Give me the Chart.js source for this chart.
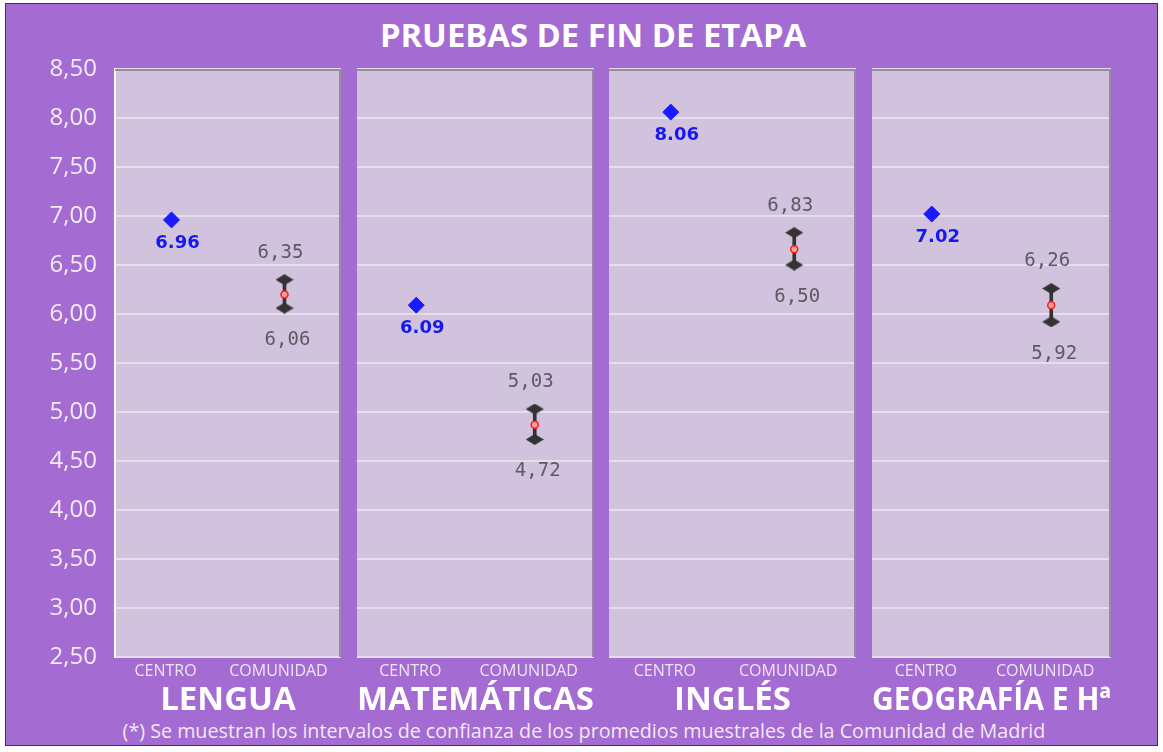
<!DOCTYPE html>
<html>
<head>
<meta charset="utf-8">
<script src="https://cdn.jsdelivr.net/npm/chart.js@4.4.1/dist/chart.umd.min.js"></script>
<style>
  body { margin: 0; width: 1163px; height: 752px; overflow: hidden; background: #ffffff; font-family: 'Open Sans', sans-serif; position: relative; }
  #frame { position: absolute; left: 5px; top: 3px; width: 1151px; height: 741px; background: #a46bd3; border: 1px solid #3a3a3a; }
  .panel { position: absolute; top: 53px; height: 663px; }
  #title { position: absolute; left: 0; width: 1186px; top: 13px; text-align: center; color: #ffffff; font-weight: 700; font-size: 32.8px; line-height: 44px; }
  #note { position: absolute; left: 0; width: 1168px; top: 717px; text-align: center; color: #f1e9f6; font-size: 19.7px; line-height: 28px; }
</style>
</head>
<body>
<div id="frame"></div>
<div id="title">PRUEBAS DE FIN DE ETAPA</div>
<div id="panels"></div>
<div id="note">(*) Se muestran los intervalos de confianza de los promedios muestrales de la Comunidad de Madrid</div>

<script>
// Datos
const subjects = ['LENGUA', 'MATEMÁTICAS', 'INGLÉS', 'GEOGRAFÍA E Hª'];
const groups = ['CENTRO', 'COMUNIDAD'];
const centro = [6.96, 6.09, 8.06, 7.02];
const comunidadUpper = [6.35, 5.03, 6.83, 6.26];
const comunidadLower = [6.06, 4.72, 6.50, 5.92];
const comunidadMean = [6.20, 4.87, 6.66, 6.09];
const yTickLabels = ['2,50', '3,00', '3,50', '4,00', '4,50', '5,00', '5,50', '6,00', '6,50', '7,00', '7,50', '8,00', '8,50'];

// Posición de cada panel (izquierda, ancho); el primero lleva el eje Y
const panelBoxes = [
    { left: 0, width: 341 },
    { left: 357, width: 237 },
    { left: 609, width: 247 },
    { left: 872, width: 239 }
];
const yAxisWidth = 115;

// Marcador de los extremos del intervalo (rombo aplastado)
function makeCap() {
    const c = document.createElement('canvas');
    c.width = 18; c.height = 11;
    const g = c.getContext('2d');
    g.fillStyle = '#333333';
    g.beginPath();
    g.moveTo(0, 5.5); g.lineTo(9, 0); g.lineTo(18, 5.5); g.lineTo(9, 11);
    g.closePath();
    g.fill();
    return c;
}
const capImg = makeCap();

// Fondo del panel y sombra superior/derecha
const panelBackground = {
    id: 'panelBackground',
    beforeDraw(chart) {
        const { ctx, chartArea: a } = chart;
        ctx.save();
        ctx.fillStyle = '#d1c3dd';
        ctx.fillRect(a.left, a.top, a.right - a.left, a.bottom - a.top);
        ctx.restore();
    },
    beforeDatasetsDraw(chart) {
        const { ctx, chartArea: a } = chart;
        ctx.save();
        ctx.strokeStyle = '#978ba2';
        ctx.lineWidth = 2;
        ctx.beginPath();
        ctx.moveTo(a.left, a.top + 1);
        ctx.lineTo(a.right - 1, a.top + 1);
        ctx.lineTo(a.right - 1, a.bottom);
        ctx.stroke();
        ctx.restore();
    }
};

// Etiquetas de valor junto a los puntos
const valueLabels = {
    id: 'valueLabels',
    afterDatasetsDraw(chart) {
        const ctx = chart.ctx;
        chart.data.datasets.forEach((ds, di) => {
            if (!ds.labelFont) return;
            const meta = chart.getDatasetMeta(di);
            meta.data.forEach((pt, j) => {
                const v = ds.data[j];
                if (v === null || v === undefined) return;
                let txt = v.toFixed(2);
                if (ds.labelComma) txt = txt.replace('.', ',');
                ctx.save();
                ctx.font = ds.labelFont;
                ctx.fillStyle = ds.labelColor;
                ctx.textAlign = 'center';
                ctx.textBaseline = 'middle';
                ctx.fillText(txt, pt.x + ds.labelDx, pt.y + ds.labelDy);
                ctx.restore();
            });
        });
    }
};

const container = document.getElementById('panels');

subjects.forEach((subject, i) => {
    const box = panelBoxes[i];
    const first = i === 0;
    const div = document.createElement('div');
    div.className = 'panel';
    div.style.left = box.left + 'px';
    div.style.width = box.width + 'px';
    const canvas = document.createElement('canvas');
    div.appendChild(canvas);
    container.appendChild(div);

    new Chart(canvas, {
        type: 'line',
        data: {
            labels: groups,
            datasets: [{
                label: 'Media Comunidad',
                data: [null, comunidadMean[i]],
                showLine: false,
                pointStyle: 'circle',
                pointRadius: 3.5,
                pointBorderWidth: 1.5,
                pointBackgroundColor: '#ff9c9c',
                pointBorderColor: '#ff1a1a'
            }, {
                label: 'Centro',
                data: [centro[i], null],
                showLine: false,
                pointStyle: 'rectRot',
                pointRadius: 8,
                pointBorderWidth: 1,
                pointBackgroundColor: '#1a1aff',
                pointBorderColor: '#1a1aff',
                labelFont: 'bold 18px "DejaVu Sans"',
                labelColor: '#1717f0',
                labelDx: 6,
                labelDy: 23
            }, {
                label: 'Límite superior',
                data: [null, comunidadUpper[i]],
                showLine: false,
                pointStyle: capImg,
                labelFont: '19px "DejaVu Sans Mono"',
                labelColor: '#5d5862',
                labelComma: true,
                labelDx: -4,
                labelDy: -27
            }, {
                label: 'Límite inferior',
                data: [null, comunidadLower[i]],
                showLine: false,
                pointStyle: capImg,
                labelFont: '19px "DejaVu Sans Mono"',
                labelColor: '#5d5862',
                labelComma: true,
                labelDx: 3,
                labelDy: 32
            }, {
                type: 'bar',
                label: 'Intervalo',
                data: [null, [comunidadLower[i], comunidadUpper[i]]],
                barThickness: 3,
                backgroundColor: '#333333',
                borderWidth: 0
            }]
        },
        options: {
            responsive: true,
            maintainAspectRatio: false,
            animation: false,
            layout: { autoPadding: false, padding: { top: 16, left: 0, right: 0, bottom: 0 } },
            plugins: {
                legend: { display: false },
                tooltip: { enabled: false }
            },
            scales: {
                x: {
                    type: 'category',
                    offset: true,
                    grid: { display: false, drawTicks: false },
                    border: { display: false },
                    ticks: {
                        color: '#efe6f4',
                        font: { family: 'Open Sans', size: 16 },
                        padding: 5,
                        labelOffset: -6,
                        maxRotation: 0
                    },
                    title: {
                        display: true,
                        text: subject,
                        color: '#ffffff',
                        font: { family: 'Open Sans', size: 33, weight: 'bold' },
                        padding: { top: 0, bottom: -4 }
                    },
                    afterFit(scale) {
                        scale.height = 59;
                        scale.paddingLeft = 0;
                        scale.paddingRight = 0;
                    }
                },
                y: {
                    min: 2.5,
                    max: 8.5,
                    grid: { color: '#e6dfeb', lineWidth: 2, drawTicks: false },
                    border: first ? { display: true, color: '#ffffff', width: 2 } : { display: false },
                    ticks: {
                        display: first,
                        stepSize: 0.5,
                        color: '#f2ecf6',
                        font: { family: 'Open Sans', size: 24 },
                        padding: 18,
                        callback: (v, idx) => yTickLabels[idx]
                    },
                    afterFit(scale) {
                        scale.width = first ? yAxisWidth : 0;
                        scale.paddingTop = 0;
                        scale.paddingBottom = 0;
                    }
                }
            }
        },
        plugins: [panelBackground, valueLabels]
    });
});
</script>
</body>
</html>
